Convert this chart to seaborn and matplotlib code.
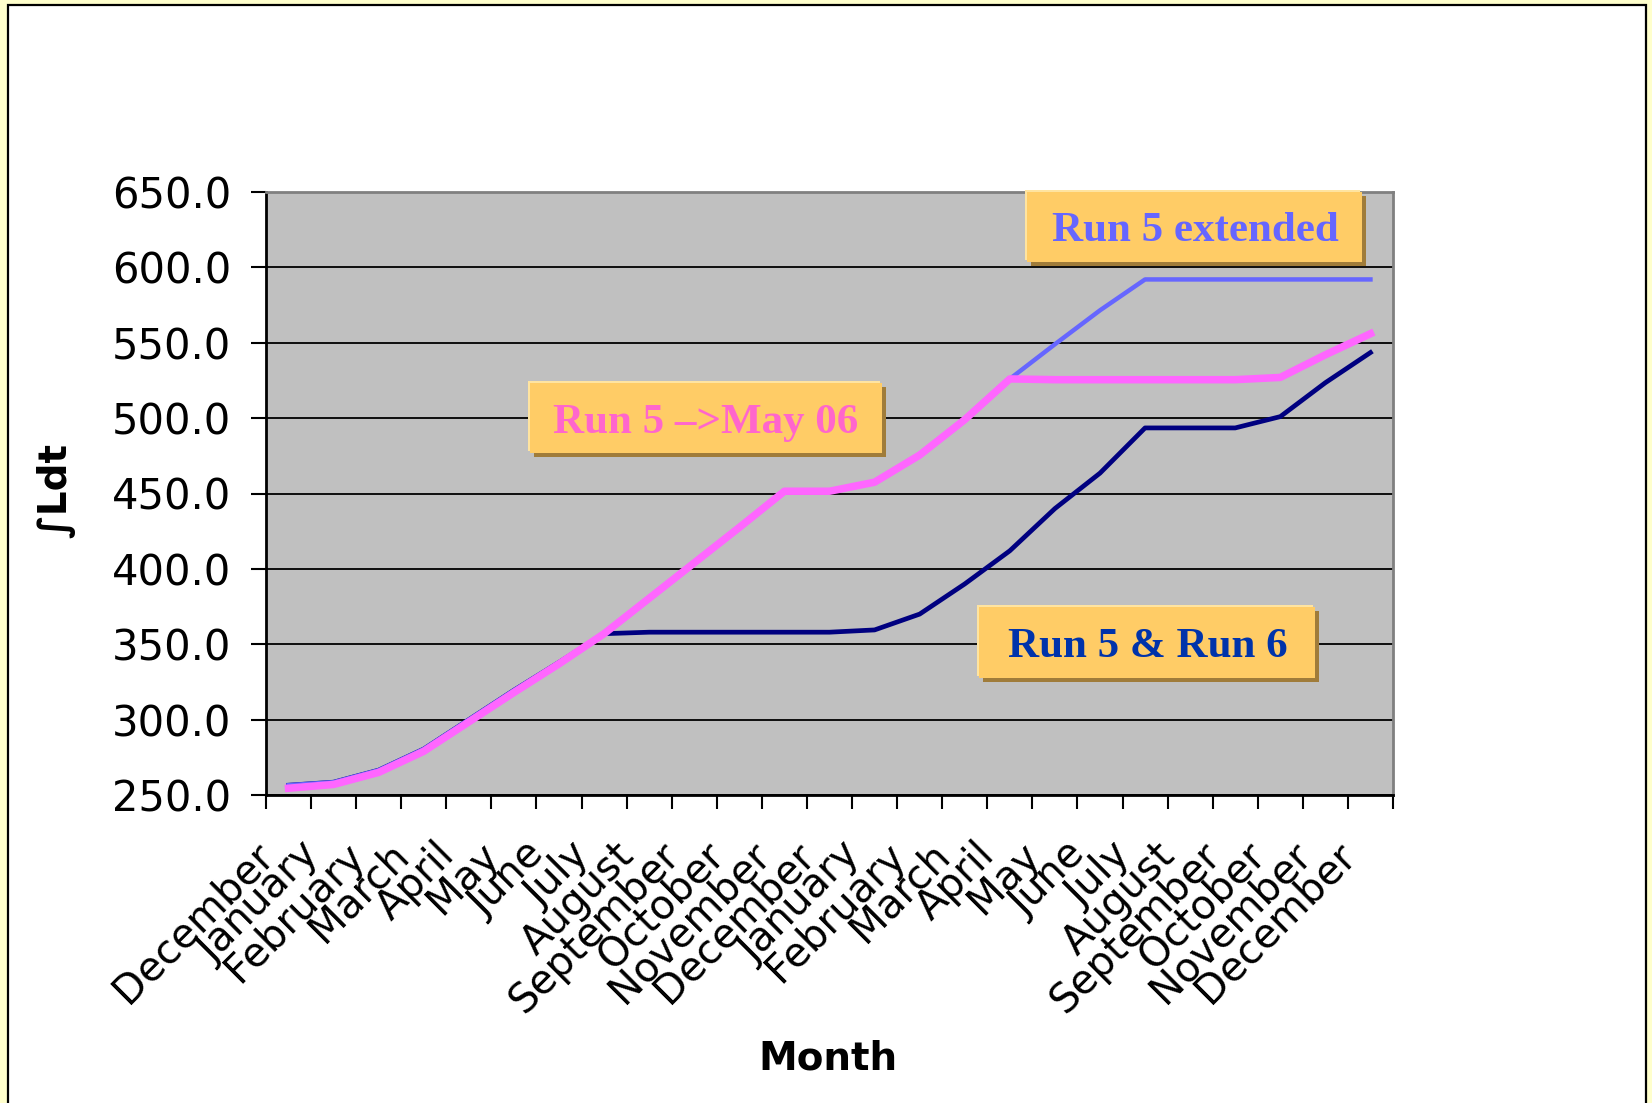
import numpy as np
import pandas as pd
import matplotlib
matplotlib.use("Agg")
import matplotlib.pyplot as plt
import matplotlib.transforms as mtransforms
from matplotlib.patches import Rectangle
import seaborn as sns

# ---- data -------------------------------------------------------------
months = ["December", "January", "February", "March", "April", "May", "June",
          "July", "August", "September", "October", "November", "December",
          "January", "February", "March", "April", "May", "June", "July",
          "August", "September", "October", "November", "December"]

run5_may06 = [254.5, 257.0, 265.0, 279.0, 298.5, 318.0, 337.0, 357.0, 380.5,
              404.0, 427.5, 451.5, 451.5, 457.5, 475.5, 499.0, 526.0, 525.5,
              525.5, 525.5, 525.5, 525.5, 527.0, 542.0, 556.0]

run5_extended = [256.5, 258.5, 266.5, 280.5, 300.0, 319.5, 338.0, 357.0, 380.5,
                 404.0, 427.5, 451.5, 451.5, 457.5, 475.5, 499.0, 526.0, 549.0,
                 571.5, 592.0, 592.0, 592.0, 592.0, 592.0, 592.0]

run5_run6 = [256.5, 258.5, 266.5, 280.5, 300.0, 319.5, 338.0, 357.0, 358.0,
             358.0, 358.0, 358.0, 358.0, 359.5, 370.0, 390.0, 412.0, 440.0,
             463.5, 493.5, 493.5, 493.5, 501.0, 523.5, 543.5]

y_ticks = [250, 300, 350, 400, 450, 500, 550, 600, 650]

df = pd.DataFrame({
    "idx": np.arange(len(months)),
    "Run 5 & Run 6": run5_run6,
    "Run 5 extended": run5_extended,
    "Run 5 ->May 06": run5_may06,
})

# ---- figure -----------------------------------------------------------
W, H = 1652, 1103
fig = plt.figure(figsize=(W / 100, H / 100), dpi=100)
fig.patch.set_facecolor("#FFFFCC")
frame = Rectangle((8 / W, -0.05), (1646 - 8) / W, 1.05 - 5 / H,
                  transform=fig.transFigure, facecolor="white",
                  edgecolor="black", linewidth=1.6, zorder=0)
fig.add_artist(frame)

L, R, T, B = 266, 1393, 192, 795
ax = fig.add_axes([L / W, 1 - B / H, (R - L) / W, (B - T) / H])
ax.set_facecolor("#C0C0C0")

sns.lineplot(data=df, x="idx", y="Run 5 & Run 6", color="#000080",
             linewidth=3.4, ax=ax, sort=False, zorder=3)
sns.lineplot(data=df, x="idx", y="Run 5 extended", color="#6666FF",
             linewidth=3.2, ax=ax, sort=False, zorder=4)
sns.lineplot(data=df, x="idx", y="Run 5 ->May 06", color="#FF66FF",
             linewidth=5.4, ax=ax, sort=False, zorder=5)

ax.set_xlim(-0.5, len(months) - 0.5)
ax.set_ylim(250, 650)
ax.set_yticks(y_ticks)
ax.set_yticklabels([f"{v:.1f}" for v in y_ticks], fontsize=30,
                   family="DejaVu Sans")
ax.yaxis.grid(True, color="black", linewidth=1.3)
ax.set_axisbelow(True)
ax.tick_params(axis="y", length=11, width=1.5, pad=14, color="black")

# month names hang from just left of each category centre
label_pos = np.arange(len(months)) - 0.46
ax.set_xticks(label_pos)
ax.set_xticklabels(months, rotation=45, ha="right", va="center",
                   rotation_mode="anchor", fontsize=29, family="DejaVu Sans")
ax.set_xticks(np.arange(len(months) + 1) - 0.5, minor=True)
ax.tick_params(axis="x", which="major", length=0, pad=39)
ax.tick_params(axis="x", which="minor", length=10, width=1.5, color="black")

for side in ("left", "bottom"):
    ax.spines[side].set_color("black")
    ax.spines[side].set_linewidth(2.0)
for side in ("top", "right"):
    ax.spines[side].set_color("#808080")
    ax.spines[side].set_linewidth(2.0)

ax.set_ylabel("∫Ldt", fontsize=28, fontweight="bold", family="DejaVu Sans")
ax.yaxis.set_label_coords((75 - L) / (R - L), 0.5058)
ax.set_xlabel("Month", fontsize=28, fontweight="bold", family="DejaVu Sans",
              va="baseline")
ax.xaxis.set_label_coords((828 - L) / (R - L), (B - 1069) / (B - T))


# ---- callout boxes ----------------------------------------------------
def px_to_axes(px, py):
    return (px - L) / (R - L), (B - py) / (B - T)


def callout(x0, y0, x1, y1, text, tx, ty, color):
    ax0, ay1 = px_to_axes(x0, y0)
    ax1, ay0 = px_to_axes(x1, y1)
    w, h = ax1 - ax0, ay1 - ay0
    hi = mtransforms.offset_copy(ax.transAxes, fig=fig, x=-2.5, y=2.5,
                                 units="dots")
    sh = mtransforms.offset_copy(ax.transAxes, fig=fig, x=4, y=-4,
                                 units="dots")
    ax.add_patch(Rectangle((ax0, ay0), w, h, transform=hi, facecolor="#FFE4A0",
                           edgecolor="none", clip_on=False, zorder=6))
    ax.add_patch(Rectangle((ax0, ay0), w, h, transform=sh, facecolor="#A07C3A",
                           edgecolor="none", clip_on=False, zorder=6))
    ax.add_patch(Rectangle((ax0, ay0), w, h, transform=ax.transAxes,
                           facecolor="#FFCC66", edgecolor="none",
                           clip_on=False, zorder=7))
    tx_, ty_ = px_to_axes(tx, ty)
    ax.text(tx_, ty_, text, transform=ax.transAxes, ha="center",
            va="baseline", fontsize=31, fontweight="bold",
            family="Liberation Serif", color=color, zorder=8, clip_on=False)


callout(1027, 192, 1362, 262, "Run 5 extended", 1195, 241, "#6666FF")
callout(530, 383, 882, 453, "Run 5 –>May 06", 706, 433, "#FF66CC")
callout(979, 607, 1315, 678, "Run 5 & Run 6", 1148, 657, "#0033AA")

fig.savefig("out.png", dpi=100, facecolor=fig.get_facecolor())
